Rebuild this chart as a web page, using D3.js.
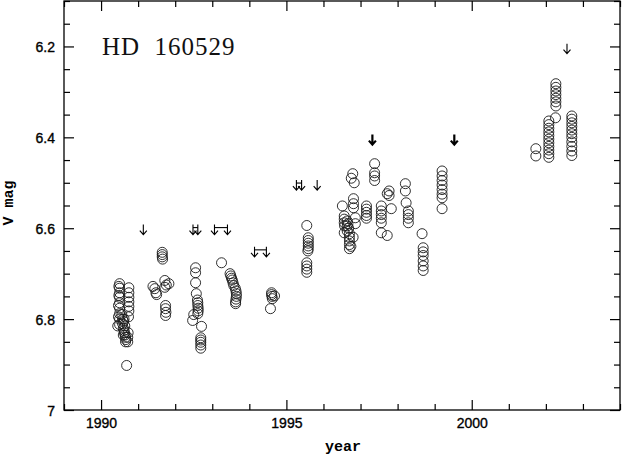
<!DOCTYPE html>
<html lang="en">
<head>
<meta charset="UTF-8">
<title>HD 160529</title>
<script src="https://d3js.org/d3.v7.min.js"></script>
<style>
  body { margin: 0; background: #fff; }
  svg { display: block; }
</style>
</head>
<body>
<script>
// observations: year, V magnitude (one line per season)
const obsYear = [
  1990.50,1990.50,1990.50,1990.50,1990.50,1990.50,1990.50,1990.50,1990.50,1990.48,1990.48,1990.47,1990.47,1990.45,
  1990.56,1990.58,1990.58,1990.60,1990.61,1990.62,1990.63,1990.64,1990.65,1990.66,1990.67,1990.66,1990.60,1990.62,
  1990.75,1990.75,1990.75,1990.75,1990.75,1990.75,1990.74,1990.73,1990.72,1990.72,1990.69,
  1991.40,1991.45,1991.48,1991.50,1991.65,1991.65,1991.65,1991.66,1991.72,1991.83,1991.76,1991.72,1991.74,1991.74,1991.75,1991.74,
  1992.55,1992.55,1992.55,1992.57,1992.60,1992.61,1992.61,1992.62,1992.62,1992.61,1992.50,1992.47,1992.71,1992.69,1992.69,1992.69,1992.69,1992.69,
  1993.25,1993.48,1993.50,1993.52,1993.54,1993.56,1993.58,1993.62,1993.64,1993.65,1993.65,1993.64,1993.63,1993.63,
  1994.60,1994.60,1994.61,1994.62,1994.68,1994.57,
  1995.55,1995.59,1995.59,1995.59,1995.59,1995.59,1995.58,1995.55,1995.55,1995.55,1995.55,
  1996.51,1996.56,1996.56,1996.56,1996.57,1996.64,1996.64,1996.64,1996.70,1996.70,1996.70,1996.70,1996.70,1996.56,1996.68,1996.66,
  1996.81,1996.81,1996.81,1996.79,1996.83,1996.75,1996.86,1996.86,1996.80,1996.74,
  1997.16,1997.16,1997.16,1997.16,1997.16,1997.38,1997.38,1997.38,1997.38,
  1997.56,1997.56,1997.56,1997.56,1997.56,1997.77,1997.77,1997.72,1997.83,1997.56,1997.72,
  1998.21,1998.21,1998.23,1998.29,1998.29,1998.29,1998.29,1998.66,1998.69,1998.69,1998.69,1998.69,1998.69,1998.69,
  1999.20,1999.20,1999.20,1999.20,1999.20,1999.20,1999.20,1999.20,
  2001.73,2001.73,
  2002.08,2002.08,2002.08,2002.08,2002.08,2002.08,2002.08,2002.08,2002.08,2002.08,2002.08,
  2002.26,2002.27,2002.27,2002.27,2002.27,2002.27,2002.27,2002.27,
  2002.70,2002.70,2002.70,2002.70,2002.70,2002.70,2002.70,2002.70,2002.70,2002.70,2002.70
];
const obsMag = [
  6.722,6.732,6.742,6.752,6.764,6.776,6.788,6.800,6.812,6.728,6.748,6.770,6.795,6.815,
  6.790,6.800,6.810,6.820,6.805,6.825,6.830,6.815,6.835,6.840,6.845,6.850,6.835,6.800,
  6.731,6.742,6.752,6.762,6.772,6.782,6.795,6.830,6.840,6.850,6.902,
  6.728,6.733,6.742,6.746,6.653,6.658,6.663,6.668,6.715,6.722,6.725,6.730,6.770,6.777,6.785,6.792,
  6.687,6.698,6.720,6.744,6.758,6.764,6.770,6.776,6.782,6.788,6.790,6.803,6.816,6.841,6.846,6.851,6.857,6.864,
  6.676,6.700,6.705,6.710,6.714,6.720,6.726,6.732,6.738,6.744,6.750,6.756,6.762,6.766,
  6.742,6.746,6.750,6.755,6.749,6.777,
  6.594,6.621,6.627,6.633,6.639,6.645,6.650,6.676,6.683,6.690,6.697,
  6.551,6.573,6.580,6.588,6.595,6.584,6.595,6.606,6.612,6.620,6.628,6.636,6.645,6.610,6.600,6.590,
  6.535,6.546,6.555,6.480,6.500,6.490,6.577,6.590,6.620,6.640,
  6.551,6.558,6.565,6.572,6.578,6.458,6.478,6.485,6.495,
  6.551,6.562,6.570,6.578,6.588,6.518,6.528,6.524,6.557,6.610,6.616,
  6.502,6.518,6.544,6.562,6.570,6.578,6.588,6.612,6.643,6.652,6.660,6.672,6.683,6.693,
  6.474,6.485,6.495,6.505,6.515,6.525,6.533,6.557,
  6.425,6.441,
  6.364,6.372,6.380,6.388,6.396,6.404,6.412,6.420,6.428,6.436,6.444,
  6.357,6.282,6.290,6.298,6.306,6.314,6.322,6.331,
  6.353,6.360,6.368,6.376,6.384,6.392,6.400,6.410,6.420,6.430,6.440
];

// upper limits: start/end year of the interval, magnitude, heavy arrow
const limitStart = [1991.14, 1992.48, 1993.06, 1994.14, 1995.27, 1995.83, 1997.32, 1999.53, 2002.57];
const limitEnd   = [1991.14, 1992.61, 1993.41, 1994.46, 1995.41, 1995.83, 1997.32, 1999.53, 2002.57];
const limitMag   = [6.603, 6.603, 6.603, 6.652, 6.505, 6.505, 6.405, 6.405, 6.205];
const limitBold  = [false, false, false, false, false, false, true, true, false];

const xMajor = [1990, 1995, 2000];
const xMinor = [1989, 1991, 1992, 1993, 1994, 1996, 1997, 1998, 1999, 2001, 2002, 2003, 2004];
const yMajor = [6.2, 6.4, 6.6, 6.8, 7];
const yMinor = [6.1, 6.15, 6.25, 6.3, 6.35, 6.45, 6.5, 6.55, 6.65, 6.7, 6.75, 6.85, 6.9, 6.95];

const width = 622, height = 456;
const mLeft = 64, mRight = 620, mTop = 1, mBottom = 410;

const svg = d3.select("body").append("svg")
  .attr("width", width)
  .attr("height", height);

svg.append("rect").attr("width", width).attr("height", height).attr("fill", "#fff");

const x = d3.scaleLinear().domain([1989, 2004]).range([mLeft, mRight]);
const y = d3.scaleLinear().domain([6.1, 7]).range([mTop, mBottom]);

// ticks on all four sides, pointing inward
function tickAxis(axis, vals, size, fmt) {
  return axis.tickValues(vals).tickSize(-size).tickSizeOuter(0).tickFormat(fmt || "");
}

const tickFont = "'Liberation Sans', Arial, sans-serif";

const gx = svg.append("g").attr("transform", `translate(0,${mBottom})`)
  .call(tickAxis(d3.axisBottom(x), xMajor, 10, d3.format("d")).tickPadding(8));
svg.append("g").attr("transform", `translate(0,${mBottom})`)
  .call(tickAxis(d3.axisBottom(x), xMinor, 6));
svg.append("g").attr("transform", `translate(0,${mTop})`)
  .call(tickAxis(d3.axisTop(x), xMajor, 10));
svg.append("g").attr("transform", `translate(0,${mTop})`)
  .call(tickAxis(d3.axisTop(x), xMinor, 6));

const gy = svg.append("g").attr("transform", `translate(${mLeft},0)`)
  .call(tickAxis(d3.axisLeft(y), yMajor, 10, d => d === 7 ? "7" : d3.format(".1f")(d)).tickPadding(9));
svg.append("g").attr("transform", `translate(${mLeft},0)`)
  .call(tickAxis(d3.axisLeft(y), yMinor, 6));
svg.append("g").attr("transform", `translate(${mRight},0)`)
  .call(tickAxis(d3.axisRight(y), yMajor, 10));
svg.append("g").attr("transform", `translate(${mRight},0)`)
  .call(tickAxis(d3.axisRight(y), yMinor, 6));

svg.selectAll(".domain").remove();
svg.selectAll(".tick line").attr("stroke", "#000").attr("stroke-width", 1.2);
svg.selectAll(".tick text")
  .attr("fill", "#000")
  .attr("stroke", "#000")
  .attr("stroke-width", 0.35)
  .style("font-family", tickFont)
  .style("font-size", "14px");
gy.selectAll(".tick text").attr("dy", "0.36em");

// frame
svg.append("rect")
  .attr("x", mLeft).attr("y", mTop)
  .attr("width", mRight - mLeft).attr("height", mBottom - mTop)
  .attr("fill", "none").attr("stroke", "#000").attr("stroke-width", 1.3);

// observations
svg.append("g")
  .selectAll("circle")
  .data(d3.range(obsYear.length))
  .join("circle")
  .attr("cx", i => x(obsYear[i]))
  .attr("cy", i => y(obsMag[i]))
  .attr("r", 5)
  .attr("fill", "none")
  .attr("stroke", "#1a1a1a")
  .attr("stroke-width", 0.9);

// upper-limit arrows
const lim = svg.append("g").attr("fill", "none").attr("stroke", "#000");
limitMag.forEach((m, i) => {
  const cy = y(m);
  const sw = limitBold[i] ? 2.2 : 1.1;
  const ends = limitStart[i] === limitEnd[i] ? [limitStart[i]] : [limitStart[i], limitEnd[i]];
  ends.forEach(t => {
    const cx = x(t);
    lim.append("path")
      .attr("stroke-width", sw)
      .attr("d", `M${cx},${cy - 5}V${cy + 5}M${cx - 3.5},${cy + 1}L${cx},${cy + 5}L${cx + 3.5},${cy + 1}`);
  });
  if (ends.length === 2) {
    lim.append("path")
      .attr("stroke-width", sw)
      .attr("d", `M${x(limitStart[i])},${cy - 2}H${x(limitEnd[i])}`);
  }
});

// labels
svg.append("text")
  .attr("x", 102).attr("y", 55)
  .style("font-family", "'Liberation Serif', 'Times New Roman', serif")
  .style("font-size", "25px")
  .style("letter-spacing", "1px")
  .attr("fill", "#111")
  .attr("xml:space", "preserve")
  .text("HD  160529");

svg.append("text")
  .attr("x", (mLeft + mRight) / 2 + 1).attr("y", 451)
  .attr("text-anchor", "middle")
  .style("font-family", "'Liberation Mono', 'Courier New', monospace")
  .style("font-size", "15px")
  .style("font-weight", "bold")
  .text("year");

svg.append("text")
  .attr("transform", "translate(13,203) rotate(-90)")
  .attr("text-anchor", "middle")
  .attr("xml:space", "preserve")
  .style("font-family", "'Liberation Mono', 'Courier New', monospace")
  .style("font-size", "15px")
  .style("font-weight", "bold")
  .text("V mag");
</script>
</body>
</html>
